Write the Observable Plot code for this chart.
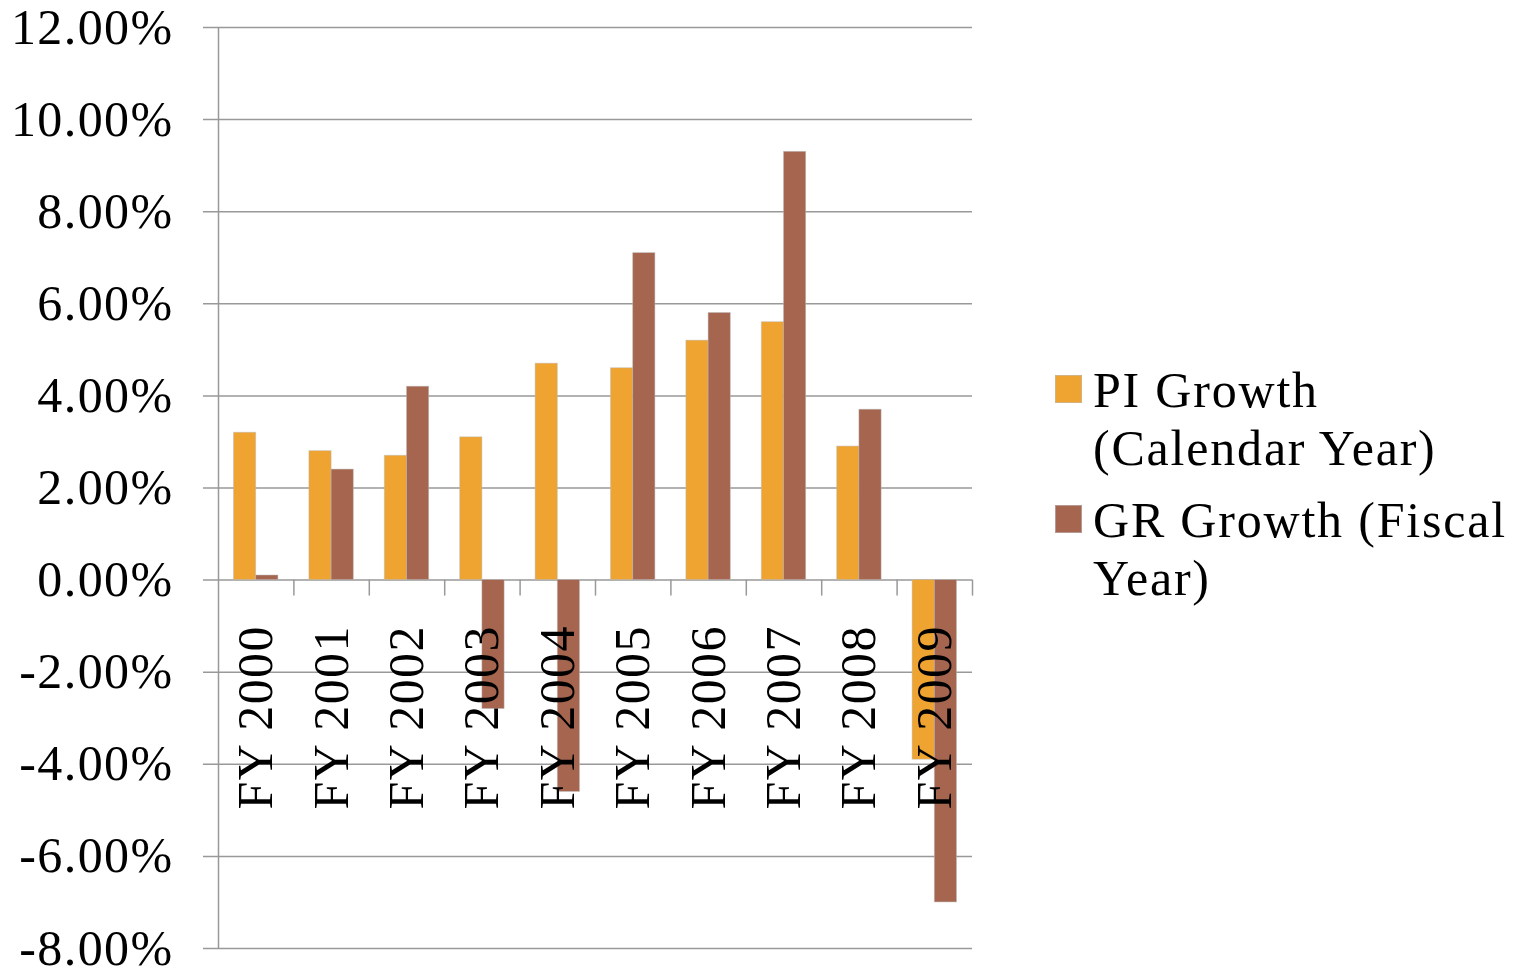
<!DOCTYPE html>
<html>
<head>
<meta charset="utf-8">
<script src="https://cdn.jsdelivr.net/npm/d3@7"></script>
<script src="https://cdn.jsdelivr.net/npm/@observablehq/plot@0.6"></script>
<style>
  html, body { margin: 0; padding: 0; background: #fff; }
  #wrap { position: relative; width: 1514px; height: 968px; font-family: "Liberation Serif", serif; }
  #legend { position: absolute; left: 1055px; top: 361px; font-size: 50px; line-height: 58px; letter-spacing: 1.8px; color: #000; }
  .item { display: flex; align-items: flex-start; margin-bottom: 14px; }
  .swatch { width: 27px; height: 28px; margin-top: 14px; margin-right: 11px; flex: none; box-sizing: border-box; border: 1px solid rgba(190,190,190,0.6); }
  .label { white-space: pre-line; }
</style>
</head>
<body>
<div id="wrap"><div id="chart"></div><div id="legend"></div></div>
<script>
// Annual growth rates, percent
const years = ["FY 2000", "FY 2001", "FY 2002", "FY 2003", "FY 2004", "FY 2005", "FY 2006", "FY 2007", "FY 2008", "FY 2009"];
const piGrowth = [3.2, 2.8, 2.7, 3.1, 4.7, 4.6, 5.2, 5.6, 2.9, -3.9];
const grGrowth = [0.1, 2.4, 4.2, -2.8, -4.6, 7.1, 5.8, 9.3, 3.7, -7.0];
const seriesNames = ["PI Growth\n(Calendar Year)", "GR Growth (Fiscal\nYear)"];
const seriesColors = ["#EFA330", "#A5654F"];
const yTicks = [-8, -6, -4, -2, 0, 2, 4, 6, 8, 10, 12];

const rows = years.map((year, i) => ({year, pi: piGrowth[i], gr: grGrowth[i]}));

const W = 1514, H = 968;
const mL = 218, mR = 542, mT = 27, mB = 20;
const band = (W - mL - mR) / years.length;
const barW = 22.2;
const gap = (band - 2 * barW) / 2;
const barStroke = {stroke: "#bdbdbd", strokeWidth: 0.8, strokeOpacity: 0.6};

const chart = Plot.plot({
  width: W,
  height: H,
  marginLeft: mL,
  marginRight: mR,
  marginTop: mT,
  marginBottom: mB,
  x: {type: "band", domain: years, padding: 0, round: false, axis: null},
  y: {domain: [-8, 12], axis: null},
  style: {fontFamily: "'Liberation Serif', serif", fontSize: "50px", color: "#000", background: "#fff", letterSpacing: "1.4px"},
  marks: [
    // horizontal gridlines, extended left to form the y tick marks
    Plot.ruleY(yTicks, {stroke: "#999", strokeWidth: 1.5, insetLeft: -15}),
    // vertical axis line
    Plot.ruleX([years[0]], {x: d => d, dx: -band / 2, stroke: "#999", strokeWidth: 1.5}),
    // category boundary ticks below the zero line
    Plot.ruleX(years, {x: d => d, dx: band / 2, y1: () => 0, y2: () => 0, insetBottom: -16, stroke: "#999", strokeWidth: 1.5}),
    Plot.barY(rows, {x: "year", y: "pi", fill: seriesColors[0], insetLeft: gap, insetRight: gap + barW, ...barStroke}),
    Plot.barY(rows, {x: "year", y: "gr", fill: seriesColors[1], insetLeft: gap + barW, insetRight: gap, ...barStroke}),
    // y tick labels
    Plot.text(yTicks, {
      y: d => d, frameAnchor: "left", dx: -45, textAnchor: "end",
      text: d => d.toFixed(2) + "%", fill: "#000", fontSize: 50
    }),
    // rotated category labels hanging from the zero line
    Plot.text(years, {
      x: d => d, y: () => 0, text: d => d, rotate: -90, textAnchor: "end",
      lineAnchor: "middle", dy: 45, fill: "#000", fontSize: 50
    })
  ]
});
document.getElementById("chart").appendChild(chart);

const legend = d3.select("#legend");
seriesNames.forEach((name, i) => {
  const item = legend.append("div").attr("class", "item");
  item.append("div").attr("class", "swatch").style("background", seriesColors[i]);
  item.append("div").attr("class", "label").text(name);
});
</script>
</body>
</html>
